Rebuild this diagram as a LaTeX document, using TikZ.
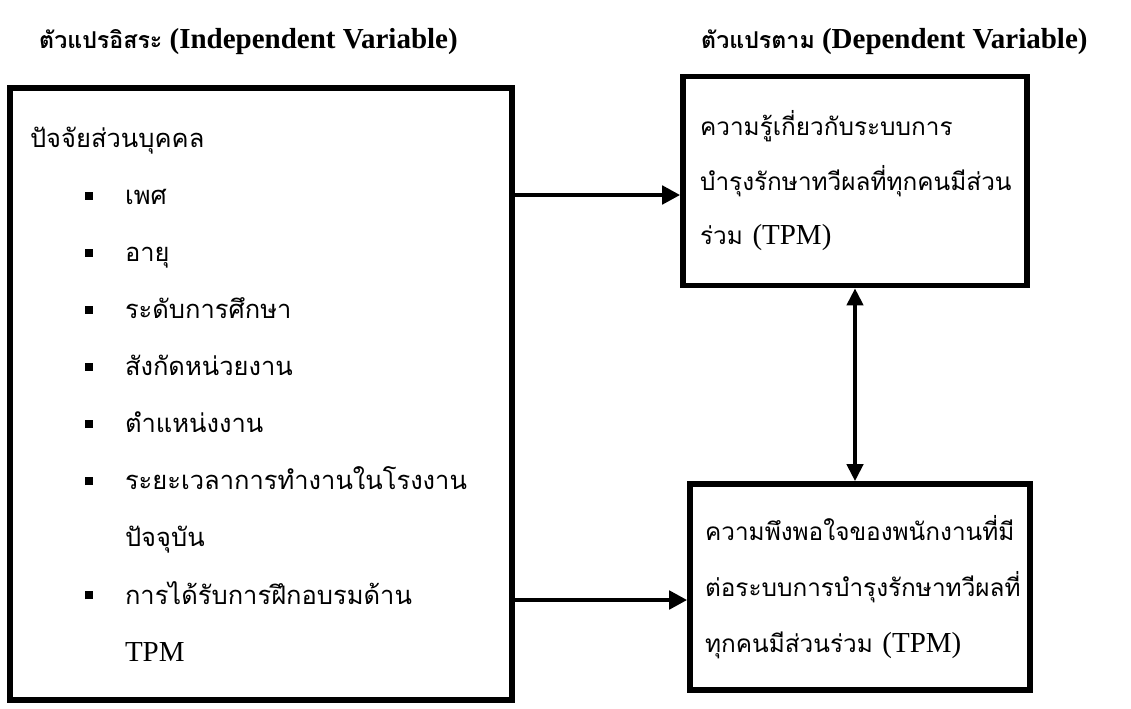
\documentclass[tikz,border=0pt]{standalone}
\usepackage{fontspec}
\setmainfont{Liberation Serif}
\newfontfamily\thai[Script=Thai,Scale=0.88]{Loma}
\newfontfamily\thaiR[Script=Thai,Scale=0.84]{Loma}
\newfontfamily\thaiH[Script=Thai,Scale=0.8]{Loma}
\usepackage{tikz}
\usetikzlibrary{arrows.meta,positioning,calc}
\newcommand{\sq}{\rule[0.35ex]{4.6pt}{4.6pt}}
\newcommand{\itm}{\hspace*{1.1cm}\makebox[0.8cm][l]{\sq}}
\newcommand{\cont}{\hspace*{1.9cm}}

\begin{document}
\begin{tikzpicture}[x=0.02cm,y=-0.02cm, every node/.style={font=\fontsize{16.5}{32.5}\selectfont}, box/.style={draw,line width=3.2pt,rectangle,align=left,inner ysep=0pt}, hdr/.style={anchor=west,font=\fontsize{16.5}{20}\selectfont\bfseries}, arr/.style={-{Triangle[length=0.36cm,width=0.36cm]},line width=2.8pt}, darr/.style={{Triangle[length=0.34cm,width=0.32cm]}-{Triangle[length=0.34cm,width=0.32cm]},line width=2.3pt}]
    \useasboundingbox (0,0) rectangle (1131,708);
    \node[hdr] (hdrIndep) at (33,42) {{\thaiH ตัวแปรอิสระ} (Independent Variable)};
    \node[hdr] (hdrDep) at (695,42) {{\thaiH ตัวแปรตาม} (Dependent Variable)};
    \node[box,text width=9.24cm,inner xsep=0.4cm,minimum height=12.24cm] (indep) at (261,394) {{\thai ปัจจัยส่วนบุคคล}\\
      \itm{\thai เพศ}\\
      \itm{\thai อายุ}\\
      \itm{\thai ระดับการศึกษา}\\
      \itm{\thai สังกัดหน่วยงาน}\\
      \itm{\thai ตำแหน่งงาน}\\
      \itm{\thai ระยะเวลาการทำงานในโรงงาน}\\
      \cont{\thai ปัจจุบัน}\\
      \itm{\thai การได้รับการฝึกอบรมด้าน}\\
      \cont TPM};
    \node[box,text width=6.2cm,inner xsep=0.34cm,minimum height=4.18cm,font=\fontsize{16.5}{31}\selectfont] (know) at (855,181) {{\thaiR ความรู้เกี่ยวกับระบบการ}\\
      {\thaiR บำรุงรักษาทวีผลที่ทุกคนมีส่วน}\\
      {\thaiR ร่วม} (TPM)};
    \node[box,text width=6.2cm,inner xsep=0.3cm,minimum height=4.12cm,font=\fontsize{16.5}{32}\selectfont] (satis) at (860,587) {{\thaiR ความพึงพอใจของพนักงานที่มี}\\
      {\thaiR ต่อระบบการบำรุงรักษาทวีผลที่}\\
      {\thaiR ทุกคนมีส่วนร่วม} (TPM)};
    \coordinate (kin) at ([yshift=-0.28cm]know.west);
    \coordinate (sin) at ([yshift=-0.26cm]satis.west);
    \draw[arr] (indep.east |- kin)--(kin); \draw[arr] (indep.east |- sin)--(sin);
    \draw[darr] (know.south)--(know.south |- satis.north);
  \end{tikzpicture}
\end{document}
